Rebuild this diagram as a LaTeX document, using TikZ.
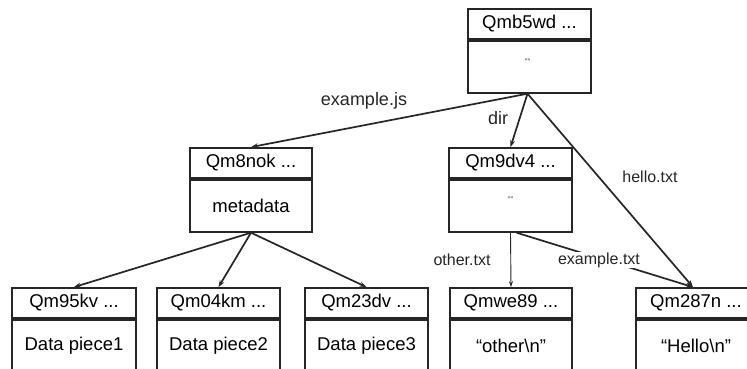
\documentclass[tikz,border=0pt]{standalone}
\usepackage{fontspec}
\setmainfont{Liberation Sans}
\usetikzlibrary{arrows.meta,calc}

\begin{document}
\begin{tikzpicture}[x=1pt,y=-1pt,
  boxline/.style={draw=black!85, line width=1.8pt, inner sep=0pt},
  hdr/.style={boxline, minimum height=30pt, font=\fontsize{18.5}{20}\selectfont},
  bdy/.style={boxline, minimum height=52pt, anchor=north, font=\fontsize{18.5}{20}\selectfont},
  emptystr/.style={font=\fontsize{8}{9}\selectfont, text=black!80, inner sep=0pt},
  link/.style={draw=black!85, line width=1.7pt, -{Stealth[length=7pt,width=5pt]}},
  thinlink/.style={draw=black!85, line width=0.9pt, -{Stealth[length=6pt,width=4pt]}},
  lbl/.style={font=\fontsize{16}{18}\selectfont, text=black!85, inner sep=1pt},
  biglbl/.style={font=\fontsize{18}{20}\selectfont, text=black!85, inner sep=1pt}]

\clip (0,0) rectangle (747,369);
\fill[white] (0,0) rectangle (747,369);

% root directory
\node[hdr, minimum width=123pt] (rootH) at (529.5,24) {Qmb5wd ...};
\node[bdy, minimum width=123pt] (rootB) at (rootH.south) {};
\node[emptystr] (rootV) at ($(rootB.center)+(-2,-5)$) {""};

% second level
\node[hdr, minimum width=122pt] (jsH) at (251,163) {Qm8nok ...};
\node[bdy, minimum width=122pt] (jsB) at (jsH.south) {metadata};

\node[hdr, minimum width=123pt] (dirH) at (510.5,163) {Qm9dv4 ...};
\node[bdy, minimum width=123pt] (dirB) at (dirH.south) {};
\node[emptystr] (dirV) at ($(dirB.center)+(0,-6)$) {""};

% leaves
\node[hdr, minimum width=124pt] (p1H) at (74,303) {Qm95kv ...};
\node[bdy, minimum width=124pt] (p1B) at (p1H.south) {Data piece1};

\node[hdr, minimum width=123pt] (p2H) at (218.5,303) {Qm04km ...};
\node[bdy, minimum width=123pt] (p2B) at (p2H.south) {Data piece2};

\node[hdr, minimum width=123pt] (p3H) at (366.5,303) {Qm23dv ...};
\node[bdy, minimum width=123pt] (p3B) at (p3H.south) {Data piece3};

\node[hdr, minimum width=122pt] (otH) at (511,303) {Qmwe89 ...};
\node[bdy, minimum width=122pt] (otB) at (otH.south) {“other\textbackslash n”};

\node[hdr, minimum width=120pt] (hiH) at (696,303) {Qm287n ...};
\node[bdy, minimum width=120pt] (hiB) at (hiH.south) {“Hello\textbackslash n”};

% links
\draw[link] ([xshift=-2pt]rootB.south) -- (jsH.north);
\draw[link] ([xshift=-2pt]rootB.south) -- (dirH.north);
\draw[link] ([xshift=-2pt]rootB.south) -- ([xshift=-3pt]hiH.north);

\draw[link] (jsB.south) -- (p1H.north);
\draw[link] (jsB.south) -- (p2H.north);
\draw[link] (jsB.south) -- (p3H.north);

\draw[thinlink] (dirB.south) -- (otH.north);
\draw[link] ([xshift=6pt]dirB.south) -- ([xshift=-3pt]hiH.north);

% link labels
\node[biglbl] (lJs) at (364,101) {example.js};
\node[biglbl] (lDir) at (498,118) {dir};
\node[lbl] (lHello) at (650,177) {hello.txt};
\node[lbl] (lOther) at (462,260) {other.txt};
\node[lbl, fill=white, inner xsep=4pt] (lEx) at (599,260) {example.txt};
\end{tikzpicture}
\end{document}
